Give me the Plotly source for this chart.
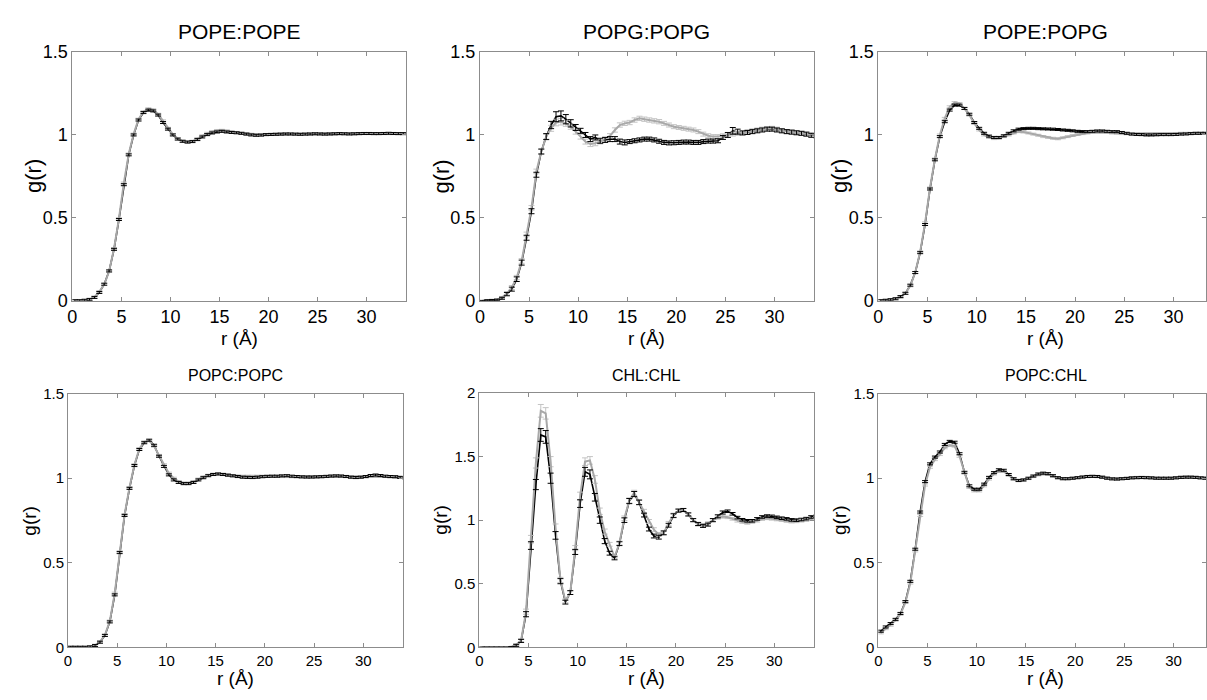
import plotly.graph_objects as go

# ---------------- data ----------------
r = [0.25, 0.75, 1.25, 1.75, 2.25, 2.75, 3.25, 3.75, 4.25, 4.75,
     5.25, 5.75, 6.25, 6.75, 7.25, 7.75, 8.25, 8.75, 9.25, 9.75,
     10.25, 10.75, 11.25, 11.75, 12.25, 12.75, 13.25, 13.75, 14.25, 14.75,
     15.25, 15.75, 16.25, 16.75, 17.25, 17.75, 18.25, 18.75, 19.25, 19.75,
     20.25, 20.75, 21.25, 21.75, 22.25, 22.75, 23.25, 23.75, 24.25, 24.75,
     25.25, 25.75, 26.25, 26.75, 27.25, 27.75, 28.25, 28.75, 29.25, 29.75,
     30.25, 30.75, 31.25, 31.75, 32.25, 32.75, 33.25, 33.75, 34.25]

titles = ["POPE:POPE", "POPG:POPG", "POPE:POPG", "POPC:POPC", "CHL:CHL", "POPC:CHL"]

pope_pope_black = [0.000, 0.000, 0.003, 0.008, 0.020, 0.050, 0.100, 0.180, 0.310, 0.490,
                   0.700, 0.880, 1.000, 1.090, 1.135, 1.150, 1.145, 1.120, 1.075, 1.035,
                   1.000, 0.975, 0.962, 0.957, 0.960, 0.972, 0.988, 1.002, 1.012, 1.018,
                   1.022, 1.018, 1.015, 1.013, 1.010, 1.005, 1.000, 0.998, 0.999, 1.002,
                   1.003, 1.004, 1.005, 1.006, 1.006, 1.005, 1.004, 1.005, 1.006, 1.007,
                   1.006, 1.005, 1.006, 1.007, 1.008, 1.007, 1.006, 1.007, 1.008, 1.009,
                   1.009, 1.008, 1.008, 1.009, 1.010, 1.009, 1.008, 1.008, 1.008]
pope_pope_gray = [0.000, 0.000, 0.002, 0.008, 0.022, 0.055, 0.098, 0.178, 0.315, 0.495,
                  0.710, 0.885, 1.005, 1.095, 1.140, 1.158, 1.152, 1.125, 1.085, 1.040,
                  1.003, 0.978, 0.962, 0.958, 0.962, 0.978, 0.995, 1.010, 1.020, 1.027,
                  1.028, 1.025, 1.020, 1.015, 1.010, 1.007, 1.004, 1.002, 1.002, 1.003,
                  1.004, 1.005, 1.006, 1.006, 1.005, 1.005, 1.006, 1.006, 1.005, 1.006,
                  1.007, 1.007, 1.006, 1.006, 1.007, 1.008, 1.008, 1.007, 1.008, 1.008,
                  1.008, 1.009, 1.009, 1.008, 1.008, 1.008, 1.009, 1.008, 1.008]

popg_popg_black = [0.000, 0.003, 0.005, 0.006, 0.015, 0.040, 0.070, 0.130, 0.230, 0.380,
                   0.540, 0.760, 0.900, 0.990, 1.060, 1.110, 1.115, 1.095, 1.070, 1.045,
                   1.025, 1.000, 0.975, 0.985, 0.965, 0.970, 0.975, 0.975, 0.960, 0.955,
                   0.960, 0.965, 0.970, 0.975, 0.975, 0.970, 0.962, 0.955, 0.952, 0.953,
                   0.955, 0.957, 0.957, 0.955, 0.955, 0.960, 0.963, 0.963, 0.965, 0.985,
                   1.000, 1.025, 1.020, 1.012, 1.015, 1.020, 1.025, 1.030, 1.035, 1.035,
                   1.030, 1.025, 1.020, 1.017, 1.013, 1.010, 1.005, 0.998, 0.995]
popg_popg_gray = [0.000, 0.002, 0.004, 0.006, 0.020, 0.045, 0.080, 0.140, 0.240, 0.400,
                  0.560, 0.780, 0.900, 0.990, 1.040, 1.075, 1.080, 1.070, 1.050, 1.020,
                  0.990, 0.960, 0.945, 0.950, 0.960, 0.975, 0.995, 1.030, 1.060, 1.070,
                  1.075, 1.090, 1.100, 1.095, 1.090, 1.085, 1.080, 1.070, 1.060, 1.050,
                  1.045, 1.040, 1.035, 1.030, 1.020, 1.005, 0.995, 0.990, 0.990, 0.995,
                  1.000, 1.005, 1.010, 1.015, 1.020, 1.025, 1.030, 1.035, 1.038, 1.040,
                  1.035, 1.025, 1.020, 1.018, 1.015, 1.010, 1.005, 1.000, 0.998]

pope_popg_black = [0.000, 0.003, 0.006, 0.012, 0.025, 0.045, 0.094, 0.170, 0.290, 0.460,
                   0.674, 0.850, 0.990, 1.080, 1.150, 1.180, 1.180, 1.160, 1.125, 1.075,
                   1.040, 1.010, 0.993, 0.985, 0.985, 0.995, 1.010, 1.025, 1.035, 1.038,
                   1.040, 1.040, 1.038, 1.037, 1.036, 1.035, 1.033, 1.030, 1.028, 1.025,
                   1.022, 1.020, 1.020, 1.022, 1.024, 1.024, 1.022, 1.020, 1.020, 1.015,
                   1.010, 1.005, 1.003, 1.002, 1.000, 1.000, 1.001, 1.002, 1.002, 1.002,
                   1.003, 1.005, 1.006, 1.008, 1.010, 1.010, 1.010, 1.010, 1.010]
pope_popg_gray = [0.000, 0.002, 0.005, 0.010, 0.022, 0.045, 0.090, 0.170, 0.295, 0.470,
                  0.680, 0.855, 1.000, 1.100, 1.170, 1.195, 1.190, 1.160, 1.120, 1.070,
                  1.030, 1.000, 0.985, 0.978, 0.980, 0.990, 1.000, 1.012, 1.020, 1.018,
                  1.012, 1.005, 0.998, 0.990, 0.985, 0.980, 0.977, 0.983, 0.990, 0.997,
                  1.003, 1.008, 1.012, 1.015, 1.017, 1.017, 1.015, 1.012, 1.010, 1.008,
                  1.007, 1.007, 1.007, 1.007, 1.008, 1.008, 1.008, 1.008, 1.008, 1.008,
                  1.009, 1.010, 1.010, 1.010, 1.010, 1.010, 1.010, 1.010, 1.010]

popc_popc_black = [0.000, 0.000, 0.000, 0.000, 0.002, 0.010, 0.030, 0.070, 0.150, 0.310,
                   0.560, 0.780, 0.940, 1.075, 1.170, 1.210, 1.225, 1.195, 1.130, 1.070,
                   1.020, 0.990, 0.975, 0.968, 0.968, 0.975, 0.990, 1.003, 1.015, 1.022,
                   1.025, 1.022, 1.018, 1.014, 1.010, 1.006, 1.005, 1.004, 1.006, 1.009,
                   1.011, 1.012, 1.012, 1.014, 1.015, 1.012, 1.010, 1.008, 1.007, 1.007,
                   1.008, 1.009, 1.011, 1.013, 1.014, 1.013, 1.010, 1.006, 1.004, 1.006,
                   1.010, 1.016, 1.019, 1.016, 1.012, 1.010, 1.009, 1.005, 1.002]
popc_popc_gray = [0.000, 0.000, 0.000, 0.000, 0.003, 0.012, 0.032, 0.072, 0.155, 0.320,
                  0.565, 0.785, 0.945, 1.080, 1.175, 1.215, 1.222, 1.190, 1.135, 1.080,
                  1.030, 1.000, 0.980, 0.972, 0.972, 0.980, 0.995, 1.008, 1.018, 1.024,
                  1.026, 1.024, 1.020, 1.016, 1.013, 1.012, 1.012, 1.012, 1.012, 1.012,
                  1.012, 1.011, 1.011, 1.010, 1.010, 1.009, 1.008, 1.008, 1.008, 1.008,
                  1.008, 1.009, 1.010, 1.011, 1.012, 1.012, 1.011, 1.010, 1.009, 1.008,
                  1.008, 1.010, 1.012, 1.012, 1.010, 1.008, 1.006, 1.005, 1.003]

chl_chl_black = [0.000, 0.000, 0.000, 0.000, 0.000, 0.000, 0.002, 0.015, 0.050, 0.260,
                 0.800, 1.280, 1.670, 1.655, 1.330, 0.880, 0.520, 0.355, 0.430, 0.750,
                 1.130, 1.380, 1.360, 1.180, 1.000, 0.835, 0.740, 0.700, 0.815, 1.000,
                 1.150, 1.205, 1.140, 1.040, 0.930, 0.875, 0.866, 0.900, 0.960, 1.035,
                 1.075, 1.080, 1.045, 1.000, 0.970, 0.955, 0.965, 1.000, 1.030, 1.060,
                 1.070, 1.050, 1.020, 1.003, 0.995, 0.995, 1.010, 1.025, 1.032, 1.030,
                 1.022, 1.015, 1.010, 1.002, 1.000, 1.005, 1.012, 1.025, 1.030]
chl_chl_gray = [0.000, 0.000, 0.000, 0.000, 0.000, 0.000, 0.003, 0.020, 0.055, 0.280,
                0.850, 1.450, 1.860, 1.840, 1.460, 0.940, 0.530, 0.365, 0.430, 0.780,
                1.190, 1.460, 1.470, 1.320, 1.070, 0.910, 0.810, 0.710, 0.820, 1.015,
                1.155, 1.215, 1.140, 1.070, 0.990, 0.925, 0.888, 0.900, 0.975, 1.040,
                1.075, 1.078, 1.045, 1.000, 0.965, 0.960, 0.975, 1.000, 1.020, 1.028,
                1.022, 1.010, 0.995, 0.985, 0.978, 0.985, 0.995, 1.008, 1.014, 1.010,
                1.005, 1.000, 0.993, 0.988, 0.990, 0.995, 1.000, 1.010, 1.015]

popc_chl_black = [0.095, 0.120, 0.140, 0.165, 0.200, 0.270, 0.390, 0.580, 0.800, 0.980,
                  1.085, 1.125, 1.155, 1.200, 1.218, 1.213, 1.145, 1.035, 0.955, 0.935,
                  0.935, 0.965, 1.005, 1.033, 1.050, 1.047, 1.022, 0.997, 0.987, 0.990,
                  1.000, 1.013, 1.025, 1.030, 1.027, 1.015, 1.003, 0.997, 0.997, 1.000,
                  1.003, 1.007, 1.010, 1.011, 1.010, 1.006, 1.000, 0.996, 0.995, 0.997,
                  0.999, 1.002, 1.003, 1.004, 1.003, 1.002, 1.000, 1.000, 1.000, 1.000,
                  1.002, 1.005, 1.006, 1.006, 1.005, 1.002, 1.000, 0.999, 0.999]
popc_chl_gray = [0.085, 0.110, 0.130, 0.160, 0.195, 0.265, 0.380, 0.570, 0.780, 0.960,
                 1.065, 1.110, 1.140, 1.180, 1.195, 1.190, 1.130, 1.030, 0.945, 0.925,
                 0.925, 0.955, 0.995, 1.025, 1.040, 1.040, 1.018, 0.995, 0.985, 0.988,
                 0.998, 1.010, 1.020, 1.025, 1.022, 1.012, 1.003, 0.998, 0.998, 1.000,
                 1.004, 1.008, 1.011, 1.012, 1.011, 1.007, 1.002, 0.998, 0.997, 0.998,
                 1.000, 1.003, 1.005, 1.006, 1.005, 1.003, 1.001, 1.000, 1.000, 1.001,
                 1.004, 1.007, 1.008, 1.008, 1.006, 1.003, 1.000, 0.999, 0.999]

# error bar half-widths
popg_popg_black_err = [0.002, 0.003, 0.003, 0.004, 0.006, 0.010, 0.012, 0.014, 0.015, 0.015,
                       0.015, 0.015, 0.015, 0.018, 0.022, 0.030, 0.030, 0.028, 0.022, 0.018,
                       0.015, 0.015, 0.015, 0.015, 0.015, 0.015, 0.015, 0.015, 0.015, 0.015,
                       0.012, 0.012, 0.012, 0.012, 0.012, 0.012, 0.012, 0.012, 0.012, 0.012,
                       0.012, 0.012, 0.012, 0.012, 0.012, 0.012, 0.012, 0.012, 0.012, 0.012,
                       0.015, 0.020, 0.015, 0.012, 0.012, 0.012, 0.012, 0.012, 0.012, 0.012,
                       0.012, 0.012, 0.012, 0.012, 0.012, 0.012, 0.012, 0.012, 0.012]
popg_popg_gray_err = [0.002, 0.003, 0.003, 0.004, 0.006, 0.010, 0.012, 0.013, 0.014, 0.014,
                      0.014, 0.014, 0.014, 0.015, 0.018, 0.020, 0.020, 0.018, 0.016, 0.015,
                      0.015, 0.015, 0.015, 0.015, 0.014, 0.013, 0.013, 0.013, 0.013, 0.013,
                      0.013, 0.013, 0.013, 0.013, 0.013, 0.013, 0.013, 0.012, 0.012, 0.012,
                      0.012, 0.012, 0.012, 0.012, 0.012, 0.012, 0.012, 0.012, 0.012, 0.012,
                      0.012, 0.012, 0.012, 0.012, 0.012, 0.012, 0.012, 0.012, 0.012, 0.012,
                      0.012, 0.012, 0.012, 0.012, 0.012, 0.012, 0.012, 0.012, 0.012]
chl_chl_black_err = [0.000, 0.000, 0.000, 0.000, 0.000, 0.000, 0.003, 0.008, 0.012, 0.020,
                     0.030, 0.040, 0.050, 0.050, 0.040, 0.030, 0.020, 0.015, 0.015, 0.020,
                     0.030, 0.035, 0.035, 0.030, 0.025, 0.020, 0.015, 0.012, 0.015, 0.018,
                     0.020, 0.020, 0.018, 0.015, 0.015, 0.015, 0.015, 0.015, 0.015, 0.015,
                     0.012, 0.012, 0.012, 0.012, 0.012, 0.012, 0.012, 0.012, 0.012, 0.012,
                     0.010, 0.010, 0.010, 0.010, 0.010, 0.010, 0.010, 0.010, 0.010, 0.010,
                     0.010, 0.010, 0.010, 0.010, 0.010, 0.010, 0.010, 0.010, 0.010]
chl_chl_gray_err = [0.000, 0.000, 0.000, 0.000, 0.000, 0.000, 0.003, 0.008, 0.012, 0.020,
                    0.030, 0.040, 0.050, 0.045, 0.040, 0.030, 0.020, 0.015, 0.015, 0.020,
                    0.030, 0.030, 0.030, 0.030, 0.025, 0.020, 0.015, 0.012, 0.015, 0.018,
                    0.020, 0.020, 0.018, 0.015, 0.015, 0.015, 0.015, 0.015, 0.015, 0.015,
                    0.012, 0.012, 0.012, 0.012, 0.012, 0.012, 0.012, 0.012, 0.012, 0.012,
                    0.010, 0.010, 0.010, 0.010, 0.010, 0.010, 0.010, 0.010, 0.010, 0.010,
                    0.010, 0.010, 0.010, 0.010, 0.010, 0.010, 0.010, 0.010, 0.010]
small_err = 0.006

# ---------------- layout helpers ----------------
W, H = 1207, 700
FONT = "Liberation Sans, Arial, Helvetica, sans-serif"
BLACK = "#000000"
GRAY_LINE = "#a8a8a8"
GRAY_ERR = "#c4c4c4"
FRAME = "#8c8c8c"

# pixel boxes: left, right, top, bottom
boxes = [
    (67.7, 402.7, 43.3, 299.3),
    (477.3, 812.8, 43.3, 299.3),
    (877.7, 1207.0, 43.3, 299.3),
    (63.3, 399.6, 395.0, 656.0),
    (476.7, 812.7, 394.3, 656.0),
    (877.7, 1207.0, 395.0, 656.0),
]
xranges = [[0, 34], [0, 34], [0, 33.3], [0, 34], [0, 34], [0, 33.3]]
yranges = [[0, 1.5], [0, 1.5], [0, 1.5], [0, 1.5], [0, 2], [0, 1.5]]
ytickvals = [[0, 0.5, 1, 1.5]] * 4 + [[0, 0.5, 1, 1.5, 2]] + [[0, 0.5, 1, 1.5]]
black_series = [pope_pope_black, popg_popg_black, pope_popg_black, popc_popc_black, chl_chl_black, popc_chl_black]
gray_series = [pope_pope_gray, popg_popg_gray, pope_popg_gray, popc_popc_gray, chl_chl_gray, popc_chl_gray]
black_errs = [small_err, popg_popg_black_err, small_err, small_err, chl_chl_black_err, small_err]
gray_errs = [small_err, popg_popg_gray_err, small_err, small_err, chl_chl_gray_err, small_err]


def err_spec(e, color):
    if isinstance(e, list):
        return dict(type="data", array=e, color=color, thickness=1, width=3)
    return dict(type="constant", value=e, color=color, thickness=1, width=3)


fig = go.Figure()
annotations = []
layout = {}

for i in range(6):
    L, R, T, B = boxes[i]
    top_row = i < 3
    xa = "x" if i == 0 else f"x{i+1}"
    ya = "y" if i == 0 else f"y{i+1}"
    tick_size = 18 if top_row else 15
    title_size = 21 if top_row else 16
    lab_size = 19

    # black curve (line only)
    fig.add_trace(go.Scatter(x=r, y=black_series[i], mode="lines",
                             line=dict(color=BLACK, width=1.6),
                             xaxis=xa, yaxis=ya, showlegend=False, hoverinfo="skip"))
    # gray curve with its light error bars
    fig.add_trace(go.Scatter(x=r, y=gray_series[i], mode="lines",
                             line=dict(color=GRAY_LINE, width=2),
                             error_y=err_spec(gray_errs[i], GRAY_ERR),
                             xaxis=xa, yaxis=ya, showlegend=False, hoverinfo="skip"))
    # black error bars drawn on top
    fig.add_trace(go.Scatter(x=r, y=black_series[i], mode="markers",
                             marker=dict(size=1, color="rgba(0,0,0,0)"),
                             error_y=err_spec(black_errs[i], BLACK),
                             xaxis=xa, yaxis=ya, showlegend=False, hoverinfo="skip"))

    xkey = "xaxis" if i == 0 else f"xaxis{i+1}"
    ykey = "yaxis" if i == 0 else f"yaxis{i+1}"
    layout[xkey] = dict(
        domain=[L / W, R / W], anchor=ya, range=xranges[i],
        tickvals=[0, 5, 10, 15, 20, 25, 30], ticks="inside", ticklen=4,
        tickcolor=FRAME, showline=True, linecolor=FRAME, linewidth=1,
        mirror="ticks", showgrid=False, zeroline=False,
        tickfont=dict(family=FONT, size=tick_size, color="black"),
    )
    layout[ykey] = dict(
        domain=[1 - B / H, 1 - T / H], anchor=xa, range=yranges[i],
        tickvals=ytickvals[i], ticks="inside", ticklen=4,
        tickcolor=FRAME, showline=True, linecolor=FRAME, linewidth=1,
        mirror="ticks", showgrid=False, zeroline=False,
        tickfont=dict(family=FONT, size=tick_size, color="black"),
    )

    cx = (L + R) / 2
    if i in (2, 5):
        cx = (L + L + 34 * (R - L) / xranges[i][1]) / 2
    title_y = 21.7 if top_row else 376.7
    xlab_y = 338 if top_row else 688
    annotations.append(dict(text=titles[i], x=cx / W, y=1 - title_y / H, xref="paper", yref="paper",
                            xanchor="center", yanchor="middle", showarrow=False,
                            font=dict(family=FONT, size=title_size, color="black")))
    annotations.append(dict(text="r (Å)", x=cx / W, y=1 - xlab_y / H, xref="paper", yref="paper",
                            xanchor="center", yanchor="middle", showarrow=False,
                            font=dict(family=FONT, size=lab_size, color="black")))
    annotations.append(dict(text="g(r)", x=(L - 39) / W, y=1 - ((T + B) / 2) / H, xref="paper", yref="paper",
                            xanchor="center", yanchor="middle", showarrow=False, textangle=-90,
                            font=dict(family=FONT, size=22 if top_row else 19, color="black")))

fig.update_layout(
    width=W, height=H,
    margin=dict(l=0, r=0, t=0, b=0),
    paper_bgcolor="white", plot_bgcolor="white",
    annotations=annotations,
    **layout,
)

fig.write_html("out.html")
